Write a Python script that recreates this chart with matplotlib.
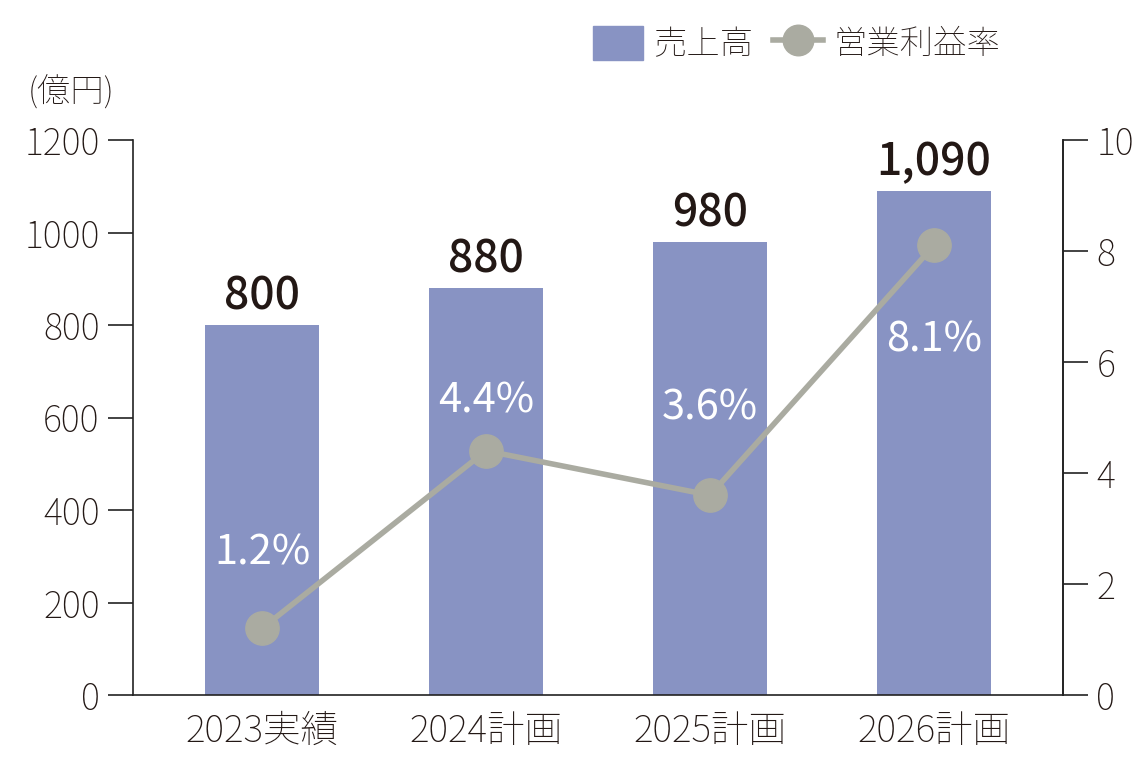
import matplotlib
matplotlib.use("Agg")
import matplotlib.pyplot as plt
from matplotlib.lines import Line2D
from matplotlib.patches import Patch

categories = ["2023実績", "2024計画", "2025計画", "2026計画"]
sales = [800, 880, 980, 1090]
sales_labels = ["800", "880", "980", "1,090"]
margin = [1.2, 4.4, 3.6, 8.1]
margin_labels = ["1.2%", "4.4%", "3.6%", "8.1%"]

plt.rcParams["font.family"] = "Noto Sans CJK JP"
BAR = "#8893c3"
LINE = "#aaaba1"

fig = plt.figure(figsize=(11.43, 7.84), dpi=100)
ax = fig.add_axes([133/1143, 89/784, 930/1143, 555/784])
x = list(range(len(categories)))
ax.bar(x, sales, width=0.51, color=BAR, zorder=2)
ax.set_xlim(-0.576, 3.576)
ax.set_ylim(0, 1200)
ax.set_yticks(range(0, 1201, 200))
ax.set_xticks(x)
ax.set_xticklabels(categories)
ax.spines["top"].set_visible(False)
for s in ["left", "bottom", "right"]:
    ax.spines[s].set_color("#222222")
    ax.spines[s].set_linewidth(1.2)
ax.tick_params(axis="y", labelsize=26, length=18, width=1.2, color="#222222", pad=6, labelcolor="#231815")
ax.tick_params(axis="x", labelsize=27, length=0, pad=12, labelcolor="#231815")
for lab in ax.get_yticklabels() + ax.get_xticklabels():
    lab.set_fontweight("light")
for xi, v, t in zip(x, sales, sales_labels):
    ax.text(xi, v + 12, t, ha="center", va="bottom", fontsize=32, fontweight="medium", color="#231815")

ax2 = ax.twinx()
ax2.set_ylim(0, 10)
ax2.set_yticks(range(0, 11, 2))
for s in ["top", "left", "bottom"]:
    ax2.spines[s].set_visible(False)
ax2.spines["right"].set_color("#222222")
ax2.spines["right"].set_linewidth(1.2)
ax2.tick_params(axis="y", labelsize=26, length=18, width=1.2, color="#222222", pad=6, labelcolor="#231815")
for lab in ax2.get_yticklabels():
    lab.set_fontweight("light")
ax2.plot(x, margin, color=LINE, lw=4, marker="o", ms=24, zorder=3)
offsets = [54, 36, 63, -68]
for xi, v, t, o in zip(x, margin, margin_labels, offsets):
    ax2.annotate(t, (xi, v), xytext=(0, o), textcoords="offset points",
                 ha="center", va="center", fontsize=30, color="white")

fig.text(28/1143, 1 - 93/784, "(億円)", fontsize=24, va="center", ha="left", color="#231815", fontweight="light")

handles = [Patch(color=BAR, label="売上高"),
           Line2D([0], [0], color=LINE, lw=4, marker="o", ms=22, label="営業利益率")]
leg = fig.legend(handles=handles, ncol=2, loc="center right", bbox_to_anchor=(1030/1143, 1 - 44/784),
                 frameon=False, fontsize=24, handlelength=1.5, handleheight=1.2, columnspacing=0.6, handletextpad=0.3)
for t in leg.get_texts():
    t.set_color("#231815")
    t.set_fontweight("light")

fig.savefig("out.png", dpi=100)
